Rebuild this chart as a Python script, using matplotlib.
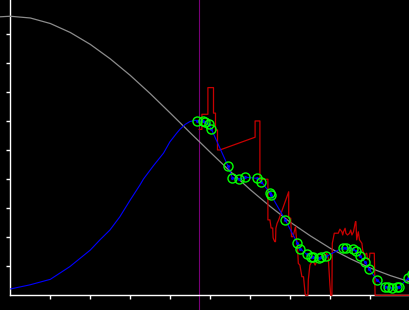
import matplotlib
matplotlib.use("Agg")
import matplotlib.pyplot as plt

# grey reference curve
grey_x = [-0.26, 0.0, 0.5, 1.0, 1.5, 2.0, 2.5, 3.0, 3.5, 4.0, 4.5, 5.0, 5.5,
          6.0, 6.5, 7.0, 7.5, 8.0, 8.5, 9.0, 9.5, 10.0]
grey_y = [9.60, 9.62, 9.56, 9.37, 9.06, 8.65, 8.15, 7.58, 6.95, 6.28, 5.60,
          4.93, 4.27, 3.64, 3.06, 2.52, 2.05, 1.62, 1.26, 0.94, 0.68, 0.46]

# blue prior curve, up to the cut line
prior_x = [0.01, 0.49, 1.0, 1.49, 2.0, 2.24, 2.49, 2.74, 3.0, 3.24, 3.33,
           3.58, 3.83, 3.99, 4.16, 4.24, 4.37, 4.49, 4.62, 4.68]
prior_y = [0.22, 0.36, 0.55, 0.99, 1.56, 1.91, 2.25, 2.71, 3.29, 3.80, 4.01,
           4.47, 4.90, 5.29, 5.59, 5.72, 5.89, 5.99, 6.03, 6.02]

# green fitted points
fit_x = [4.68, 4.83, 4.87, 4.96, 5.03, 5.44, 5.55, 5.72, 5.88, 6.18, 6.28,
         6.50, 6.52, 6.87, 7.17, 7.25, 7.41, 7.53, 7.57, 7.72, 7.77, 7.90,
         8.31, 8.38, 8.56, 8.63, 8.75, 8.86, 8.97, 9.17, 9.36, 9.44, 9.55,
         9.67, 9.72, 9.94, 10.05]
fit_y = [6.02, 6.00, 5.96, 5.89, 5.72, 4.46, 4.06, 4.00, 4.07, 4.03, 3.91,
         3.51, 3.45, 2.61, 1.82, 1.61, 1.41, 1.33, 1.32, 1.28, 1.31, 1.34,
         1.64, 1.64, 1.60, 1.53, 1.34, 1.16, 0.90, 0.52, 0.30, 0.29, 0.25,
         0.28, 0.29, 0.58, 0.75]

# red observed series
obs_x = [4.72, 4.79, 4.79, 4.94, 4.94, 5.08, 5.08, 5.13, 5.13, 5.18, 5.18,
         5.24, 6.12, 6.12, 6.24, 6.24, 6.44, 6.44, 6.49, 6.52, 6.56, 6.57,
         6.61, 6.63, 6.64, 6.67, 6.71, 6.96, 6.96, 7.01, 7.03, 7.07, 7.09,
         7.13, 7.15, 7.18, 7.20, 7.24, 7.29, 7.33, 7.37, 7.38, 7.44, 7.45,
         7.49, 7.54, 7.58, 7.62, 7.66, 7.70, 7.79, 7.87, 7.91, 7.95, 7.99,
         8.01, 8.04, 8.05, 8.10, 8.20, 8.24, 8.29, 8.31, 8.33, 8.37, 8.39,
         8.43, 8.48, 8.51, 8.54, 8.58, 8.62, 8.63, 8.64, 8.66, 8.70, 8.73,
         8.79, 8.81, 8.85, 8.91, 8.93, 8.98, 8.99, 9.10, 9.12, 10.0]
obs_y = [5.72, 5.72, 6.24, 6.24, 7.16, 7.16, 6.28, 6.28, 5.70, 5.70, 5.01,
         5.01, 5.45, 6.01, 6.01, 4.00, 4.00, 2.60, 2.60, 2.32, 2.32, 1.98,
         1.85, 1.85, 2.31, 2.48, 2.60, 3.57, 2.66, 2.66, 2.02, 2.02, 2.14,
         2.37, 2.02, 1.68, 1.10, 1.04, 0.64, 0.64, 0.07, 0.0, 0.0, 0.53,
         1.04, 1.16, 1.16, 1.04, 1.16, 1.28, 1.33, 1.39, 1.45, 1.28, 0.36,
         0.0, 0.0, 1.79, 2.14, 2.14, 2.28, 2.19, 2.08, 2.19, 2.31, 2.14,
         2.08, 2.14, 2.25, 2.08, 2.19, 2.48, 2.54, 2.54, 1.91, 2.19, 1.91,
         1.79, 1.56, 1.39, 1.45, 1.24, 1.28, 1.45, 1.45, 0.0, 0.0]

cut_x = 4.72
ticks = [1, 2, 3, 4, 5, 6, 7, 8, 9]

fig = plt.figure(figsize=(4.1, 3.1), dpi=100, facecolor="black")
ax = fig.add_axes([0, 0, 1, 1], facecolor="black")

ax.plot(grey_x, grey_y, color="#8c8c8c", lw=0.9, zorder=3)
ax.plot(prior_x, prior_y, color="#0000ff", lw=0.8, zorder=3)
ax.axvline(cut_x, color="#780078", lw=0.8, zorder=2)
ax.plot(obs_x, obs_y, color="#c80000", lw=0.9, zorder=4)
ax.plot(fit_x, fit_y, color="#0000ff", lw=0.8, zorder=5,
        marker="o", markersize=1.2)
ax.plot(fit_x, fit_y, ls="none", marker="o", markersize=6.5,
        markerfacecolor="none", markeredgecolor="#00ff00",
        markeredgewidth=1.0, zorder=6)

ax.set_xlim(-0.2575, 9.9925)
ax.set_ylim(-0.507, 10.18)

# axis lines through the origin, no labels
for side in ["top", "right"]:
    ax.spines[side].set_visible(False)
ax.spines["left"].set_position(("data", 0))
ax.spines["bottom"].set_position(("data", 0))
ax.spines["left"].set_bounds(0, 10.18)
ax.spines["bottom"].set_bounds(0, 9.9925)
for side in ["left", "bottom"]:
    ax.spines[side].set_color("white")
    ax.spines[side].set_linewidth(1.0)

ax.set_xticks(ticks)
ax.set_yticks(ticks)
ax.set_xticklabels([])
ax.set_yticklabels([])
ax.tick_params(colors="white", direction="out", length=2.7, width=1.0)

fig.savefig("out.png", dpi=100, facecolor="black")
